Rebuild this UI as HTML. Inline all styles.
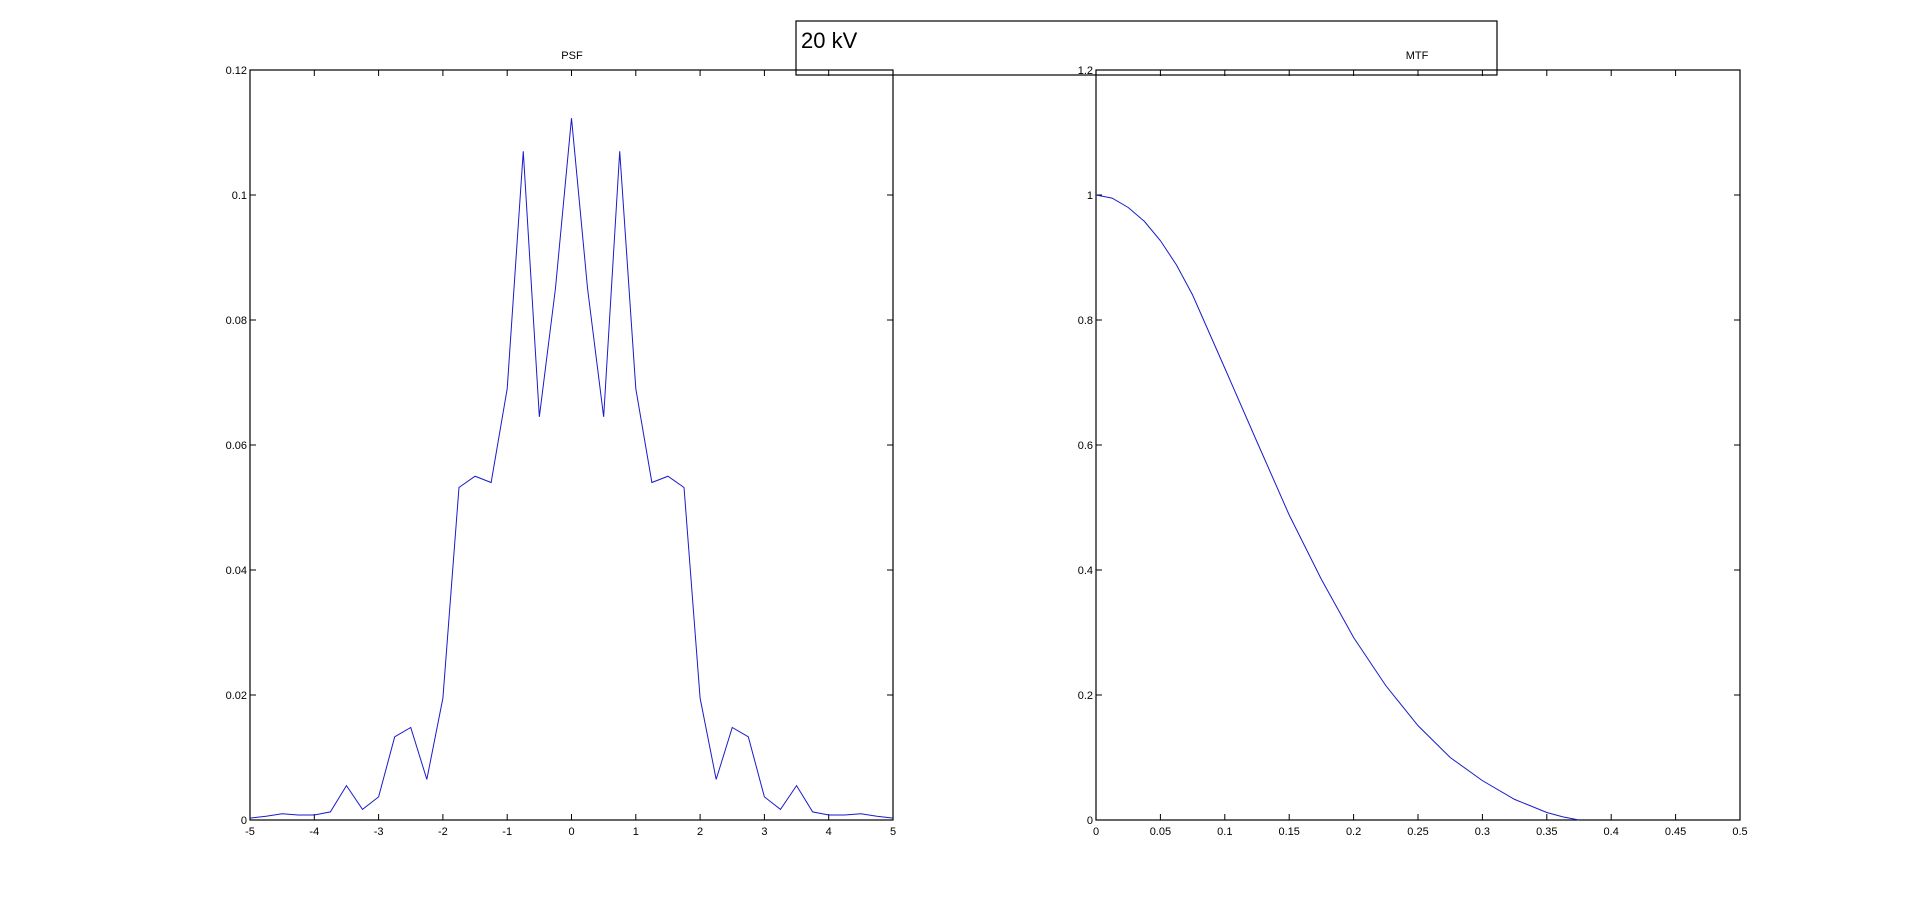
<!DOCTYPE html>
<html><head><meta charset="utf-8"><style>
body{margin:0;background:#fff;}
svg{display:block;font-family:"Liberation Sans",sans-serif;}
</style></head><body>
<svg id="fig" width="1921" height="921"></svg>
<script>
const psfX=[-5,-4.75,-4.5,-4.25,-4,-3.75,-3.5,-3.25,-3,-2.75,-2.5,-2.25,-2,-1.75,-1.5,-1.25,-1,-0.75,-0.5,-0.25,0,0.25,0.5,0.75,1,1.25,1.5,1.75,2,2.25,2.5,2.75,3,3.25,3.5,3.75,4,4.25,4.5,4.75,5];
const psfY=[0.0003,0.0006,0.001,0.0008,0.0008,0.0013,0.0055,0.0017,0.0037,0.0133,0.0148,0.0065,0.0195,0.0532,0.055,0.054,0.069,0.107,0.0645,0.085,0.1123,0.085,0.0645,0.107,0.069,0.054,0.055,0.0532,0.0195,0.0065,0.0148,0.0133,0.0037,0.0017,0.0055,0.0013,0.0008,0.0008,0.001,0.0006,0.0003];
const psfXTicks=[-5,-4,-3,-2,-1,0,1,2,3,4,5];
const psfYTicks=[0,0.02,0.04,0.06,0.08,0.1,0.12];
const mtfX=[0,0.0125,0.025,0.0375,0.05,0.0625,0.075,0.1,0.125,0.15,0.175,0.2,0.225,0.25,0.275,0.3,0.325,0.35,0.3625,0.375];
const mtfY=[1.0,0.995,0.98,0.958,0.927,0.888,0.84,0.723,0.605,0.488,0.385,0.292,0.215,0.151,0.1,0.063,0.033,0.012,0.005,0];
const mtfXTicks=[0,0.05,0.1,0.15,0.2,0.25,0.3,0.35,0.4,0.45,0.5];
const mtfYTicks=[0,0.2,0.4,0.6,0.8,1,1.2];
const NS='http://www.w3.org/2000/svg';
const svg=document.getElementById('fig');
function mk(t,a,p){const e=document.createElementNS(NS,t);for(const k in a)e.setAttribute(k,a[k]);(p||svg).appendChild(e);return e;}
function axes(name,L,R,T,B,x0,x1,y0,y1,xt,yt,xs,ys,title,tx){
  const g=mk('g',{});
  
  
  const sx=v=>L+(v-x0)/(x1-x0)*(R-L), sy=v=>B-(v-y0)/(y1-y0)*(B-T);
  const fr=mk('rect',{x:L,y:T,width:R-L,height:B-T,fill:'none',stroke:'#000','stroke-width':1.2},g);
  
  
  xt.forEach(v=>{const x=sx(v);
    mk('line',{x1:x,x2:x,y1:B,y2:B-6,stroke:'#000'},g);mk('line',{x1:x,x2:x,y1:T,y2:T+6,stroke:'#000'},g);
    const t=mk('text',{x:x,y:B+15,'font-size':11,'text-anchor':'middle'},g);t.textContent=v;
    
    });
  yt.forEach(v=>{const y=sy(v);
    mk('line',{x1:L,x2:L+6,y1:y,y2:y,stroke:'#000'},g);mk('line',{x1:R,x2:R-6,y1:y,y2:y,stroke:'#000'},g);
    const t=mk('text',{x:L-3,y:y+4,'font-size':11,'text-anchor':'end'},g);t.textContent=v;
    
    });
  const pts=xs.map((v,i)=>sx(v).toFixed(2)+','+sy(ys[i]).toFixed(2)).join(' ');
  const pl=mk('polyline',{points:pts,fill:'none',stroke:'#1a1acc','stroke-width':1},g);
  
  
  const ti=mk('text',{x:tx,y:59,'font-size':11,'text-anchor':'middle'},g);ti.textContent=title;
  
  
}
axes('psf',250,893,70,820,-5,5,0,0.12,psfXTicks,psfYTicks,psfX,psfY,'PSF',572);
axes('mtf',1096,1740,70,820,0,0.5,0,1.2,mtfXTicks,mtfYTicks,mtfX,mtfY,'MTF',1417);
const bx=mk('rect',{x:796,y:21,width:701,height:54,fill:'none',stroke:'#000','stroke-width':1.2});


const bt=mk('text',{x:801,y:48,'font-size':22});bt.textContent='20 kV';


</script>
</body></html>
